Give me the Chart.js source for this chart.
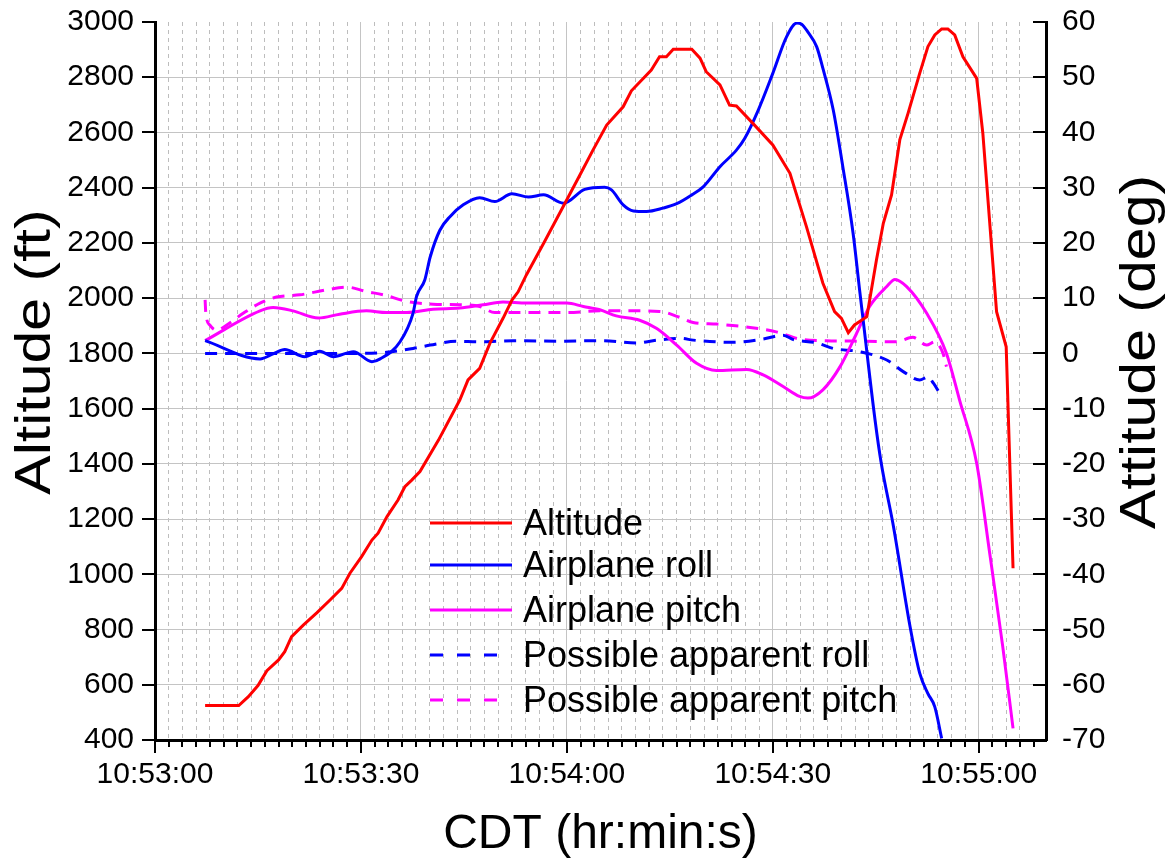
<!DOCTYPE html>
<html>
<head>
<meta charset="utf-8">
<script src="https://cdn.jsdelivr.net/npm/chart.js@4/dist/chart.umd.min.js"></script>
<style>
  html, body { margin: 0; padding: 0; background: #fff; }
  #wrap { width: 1172px; height: 859px; }
</style>
</head>
<body>
<div id="wrap"><canvas id="flightChart" width="1172" height="859"></canvas></div>
<script>
// time axis is seconds after 10:53:00 CDT
var majorTickLabels = ['10:53:00', '10:53:30', '10:54:00', '10:54:30', '10:55:00'];

// altitude (ft), left axis
var altTime = [7.3, 12.2, 13.6, 15.0, 16.3, 18.0, 18.9, 19.9, 21.6, 23.6, 25.5, 27.2, 28.4, 30.1, 31.6, 32.5, 33.8, 35.4, 36.4, 37.4,
  38.6, 41.3, 44.4, 45.6, 47.3, 48.8, 50.7, 52.0, 52.9, 54.1, 56.6, 59.2, 61.9, 63.8, 65.8, 68.2, 69.4, 72.3, 73.5, 74.5,
  75.5, 78.2, 79.4, 80.3, 82.3, 83.7, 84.7, 87.1, 90.0, 92.5, 94.9, 97.3, 99.0, 100.0, 101.0, 101.9, 103.7, 105.1, 106.1, 107.3,
  108.5, 109.7, 111.4, 112.6, 113.6, 114.6, 115.5, 116.5, 117.7, 119.7, 120.6, 122.6, 124.0, 125.0];
var altFeet = [525, 525, 557, 597, 651, 690, 720, 774, 816, 861, 907, 949, 1004, 1064, 1124, 1149, 1209, 1269, 1317, 1341,
  1372, 1486, 1631, 1704, 1746, 1837, 1927, 1993, 2023, 2084, 2198, 2319, 2446, 2536, 2627, 2693, 2751, 2826, 2874, 2874,
  2901, 2901, 2869, 2820, 2772, 2699, 2696, 2633, 2555, 2452, 2259, 2054, 1951, 1927, 1875, 1903, 1933, 2138, 2271, 2374,
  2573, 2669, 2814, 2911, 2953, 2975, 2975, 2953, 2874, 2796, 2597, 1951, 1824, 1022];

// attitude (deg), right axis
var rollTime = [7.3, 15.3, 17.2, 18.9, 21.8, 24.0, 26.0, 28.9, 31.6, 32.8, 35.7, 37.6, 38.1, 39.3, 40.1, 41.5, 43.0, 44.9, 47.3, 49.5,
  52.0, 54.4, 56.6, 59.5, 62.6, 65.5, 66.5, 68.2, 69.7, 71.6, 74.0, 76.0, 78.2, 79.9, 82.3, 84.7, 85.9, 87.9, 90.0, 92.0,
  93.5, 94.2, 95.1, 96.4, 97.3, 98.8, 100.2, 101.7, 102.7, 103.1, 104.9, 105.8, 107.5, 110.0, 111.4, 112.6, 113.6, 114.6];
var rollDeg = [2.3, -1.0, -0.1, 0.7, -0.6, 0.4, -0.6, 0.3, -1.5, -1.0, 2.1, 7.3, 10.3, 13.3, 17.5, 22.3, 24.8, 26.9, 28.2, 27.5,
  28.9, 28.3, 28.7, 27.2, 29.7, 30.1, 29.6, 26.9, 25.8, 25.7, 26.3, 27.1, 28.7, 30.2, 33.8, 36.8, 38.9, 44.1, 50.7, 57.3,
  59.8, 59.6, 58.2, 55.5, 51.6, 44.1, 33.8, 21.7, 10.9, 6.7, -12.1, -19.9, -30.8, -49.5, -57.9, -61.6, -64.0, -69.7];

var pitchTime = [7.3, 15.3, 17.2, 20.1, 23.8, 26.9, 30.8, 33.7, 36.7, 40.5, 44.4, 47.8, 50.7, 54.1, 60.0, 62.4, 64.8, 67.2, 70.6, 73.1,
  76.0, 78.9, 81.8, 86.2, 88.6, 91.5, 93.9, 95.1, 97.3, 99.8, 102.2, 104.1, 106.6, 107.8, 109.5, 112.4, 115.3, 117.2, 119.7, 121.6,
  123.5, 125.0];
var pitchDeg = [2.3, 7.7, 8.3, 7.7, 6.4, 7.1, 7.7, 7.4, 7.4, 8.0, 8.2, 8.8, 9.3, 9.1, 9.1, 8.5, 7.9, 6.8, 6.0, 4.5,
  1.5, -1.8, -3.1, -2.9, -3.9, -6.0, -7.8, -8.1, -6.6, -2.4, 3.6, 8.5, 12.1, 13.4, 12.1, 7.3, 0.0, -8.4, -19.9, -36.2,
  -53.1, -67.9];

var appRollTime = [7.3, 15.3, 21.1, 28.9, 33.7, 37.6, 40.1, 43.9, 47.3, 52.2, 58.5, 64.8, 70.2, 73.1, 76.7, 78.4, 84.2, 88.6, 91.5, 93.0,
  96.4, 98.8, 102.7, 106.6, 109.0, 111.4, 112.6, 113.4, 114.3];
var appRollDeg = [0.0, 0.0, 0.0, 0.0, 0.2, 0.9, 1.5, 2.2, 2.1, 2.3, 2.2, 2.3, 1.9, 2.4, 2.7, 2.4, 2.0, 2.6, 3.3, 2.5,
  1.9, 0.9, 0.3, -1.2, -3.3, -4.8, -4.3, -5.4, -7.2];

var appPitchTime = [7.3, 7.4, 8.0, 9.0, 10.4, 12.9, 15.3, 17.7, 21.1, 25.0, 27.9, 30.8, 33.3, 36.7, 40.5, 44.4, 47.3, 49.5, 55.1, 60.0,
  64.8, 69.7, 73.5, 76.5, 78.4, 81.8, 86.7, 90.5, 93.9, 97.8, 103.7, 108.0, 110.4, 112.4, 113.6, 114.8, 115.3];
var appPitchDeg = [9.7, 7.3, 5.1, 4.2, 5.1, 7.3, 9.1, 10.2, 10.6, 11.5, 12.0, 11.2, 10.6, 9.4, 8.9, 8.8, 8.5, 7.4, 7.4, 7.4,
  7.7, 7.7, 7.6, 6.5, 5.6, 5.3, 4.7, 3.9, 2.6, 2.3, 2.2, 2.1, 2.9, 1.5, 2.1, 0.0, -2.4];

function pairs(xs, ys) {
    return xs.map(function(x, i) { return { x: x, y: ys[i] }; });
}

var FONT = '"Liberation Sans", Arial, sans-serif';

// tick marks, rotated y titles and the in-plot legend
var decor = {
    id: 'decor',
    afterDraw: function(chart) {
        var c = chart.ctx, a = chart.chartArea;
        var xs = chart.scales.x, yl = chart.scales.y, yr = chart.scales.y2;
        c.save();
        c.strokeStyle = '#000';
        c.lineWidth = 2;
        c.beginPath();
        for (var s = 0; s <= xs.max; s += 2) {
            var px = Math.round(xs.getPixelForValue(s));
            var len = s % 30 === 0 ? 13 : 7;
            c.moveTo(px, a.bottom);
            c.lineTo(px, a.bottom + len);
        }
        for (var v = yl.min; v <= yl.max; v += 200) {
            var py = Math.round(yl.getPixelForValue(v));
            c.moveTo(a.left - 13, py);
            c.lineTo(a.left, py);
        }
        for (var d = yr.min; d <= yr.max; d += 10) {
            var qy = Math.round(yr.getPixelForValue(d));
            c.moveTo(a.right - 13, qy);
            c.lineTo(a.right, qy);
        }
        c.stroke();

        // y titles (both read bottom to top)
        c.fillStyle = '#000';
        c.font = '50px ' + FONT;
        c.textAlign = 'center';
        c.textBaseline = 'alphabetic';
        var midY = 352;
        c.save();
        c.translate(50, midY);
        c.rotate(-Math.PI / 2);
        c.scale(1.18, 1);
        c.fillText('Altitude (ft)', 0, 0);
        c.restore();
        c.save();
        c.translate(1155, midY);
        c.rotate(-Math.PI / 2);
        c.scale(1.18, 1);
        c.fillText('Attitude (deg)', 0, 0);
        c.restore();

        // legend
        var rowY = [523, 565, 610, 655, 700];
        c.font = '36px ' + FONT;
        c.textAlign = 'left';
        c.textBaseline = 'middle';
        chart.data.datasets.forEach(function(ds, i) {
            var y = rowY[i];
            c.strokeStyle = ds.borderColor;
            c.lineWidth = 3;
            var dashed = ds.borderDash && ds.borderDash.length;
            c.setLineDash(dashed ? [13, 14] : []);
            c.beginPath();
            c.moveTo(430, y);
            c.lineTo(dashed ? 498 : 512, y);
            c.stroke();
            c.setLineDash([]);
            c.fillStyle = '#000';
            c.fillText(ds.label, 523, y + 2);
        });
        c.restore();
    }
};

var flightChart = new Chart(document.getElementById('flightChart').getContext('2d'), {
    type: 'line',
    data: {
        datasets: [{
            label: 'Altitude',
            data: pairs(altTime, altFeet),
            yAxisID: 'y',
            borderColor: '#ff0000',
            borderWidth: 3,
            tension: 0
        }, {
            label: 'Airplane roll',
            data: pairs(rollTime, rollDeg),
            yAxisID: 'y2',
            borderColor: '#0000ff',
            borderWidth: 3,
            cubicInterpolationMode: 'monotone'
        }, {
            label: 'Airplane pitch',
            data: pairs(pitchTime, pitchDeg),
            yAxisID: 'y2',
            borderColor: '#ff00ff',
            borderWidth: 3,
            cubicInterpolationMode: 'monotone'
        }, {
            label: 'Possible apparent roll',
            data: pairs(appRollTime, appRollDeg),
            yAxisID: 'y2',
            borderColor: '#0000ff',
            borderWidth: 3,
            borderDash: [12, 8],
            cubicInterpolationMode: 'monotone'
        }, {
            label: 'Possible apparent pitch',
            data: pairs(appPitchTime, appPitchDeg),
            yAxisID: 'y2',
            borderColor: '#ff00ff',
            borderWidth: 3,
            borderDash: [12, 8],
            cubicInterpolationMode: 'monotone'
        }]
    },
    options: {
        responsive: false,
        animation: false,
        devicePixelRatio: 1,
        layout: { padding: { top: 22, left: 0, right: 0, bottom: 0 } },
        elements: { point: { radius: 0 } },
        plugins: { legend: { display: false }, tooltip: { enabled: false } },
        scales: {
            x: {
                type: 'linear',
                position: 'bottom',
                min: 0,
                max: 129.8,
                afterFit: function(s) { s.height = 119; s.paddingLeft = 0; s.paddingRight = 0; },
                ticks: {
                    stepSize: 2,
                    autoSkip: false,
                    maxRotation: 0,
                    minRotation: 0,
                    padding: 17,
                    color: '#000',
                    font: { family: FONT, size: 30 },
                    callback: function(v) {
                        return (v % 30 === 0) ? majorTickLabels[v / 30] : '';
                    }
                },
                grid: {
                    drawTicks: false,
                    lineWidth: 1,
                    color: function(ctx) {
                        if (!ctx.tick || ctx.tick.value === 0 || ctx.tick.value % 2 !== 0) return 'rgba(0,0,0,0)';
                        return ctx.tick.value % 30 === 0 ? '#c4c4c4' : '#bdbdbd';
                    }
                },
                border: {
                    color: '#000',
                    width: 3,
                    dash: function(ctx) {
                        return (ctx.tick && ctx.tick.value % 30 !== 0) ? [4, 4] : [];
                    }
                },
                title: {
                    display: true,
                    text: 'CDT (hr:min:s)',
                    color: '#000',
                    font: { family: FONT, size: 48, lineHeight: 1 },
                    padding: { top: 0, bottom: 0 }
                }
            },
            y: {
                position: 'left',
                min: 400,
                max: 3000,
                afterFit: function(s) { s.width = 155; s.paddingTop = 0; s.paddingBottom = 0; },
                ticks: {
                    stepSize: 200,
                    padding: 21,
                    color: '#000',
                    font: { family: FONT, size: 30 },
                    callback: function(v) { return String(v); }
                },
                grid: {
                    drawTicks: false,
                    lineWidth: 1,
                    color: function(ctx) {
                        if (!ctx.tick || ctx.tick.value === 400 || ctx.tick.value === 3000) return 'rgba(0,0,0,0)';
                        return '#c4c4c4';
                    }
                },
                border: { color: '#000', width: 3 }
            },
            y2: {
                position: 'right',
                min: -70,
                max: 60,
                afterFit: function(s) { s.width = 126; s.paddingTop = 0; s.paddingBottom = 0; },
                ticks: {
                    stepSize: 10,
                    padding: 16,
                    color: '#000',
                    font: { family: FONT, size: 30 },
                    callback: function(v) { return String(v); }
                },
                grid: { drawOnChartArea: false, drawTicks: false },
                border: { color: '#000', width: 3 }
            }
        }
    },
    plugins: [decor]
});
</script>
</body>
</html>
